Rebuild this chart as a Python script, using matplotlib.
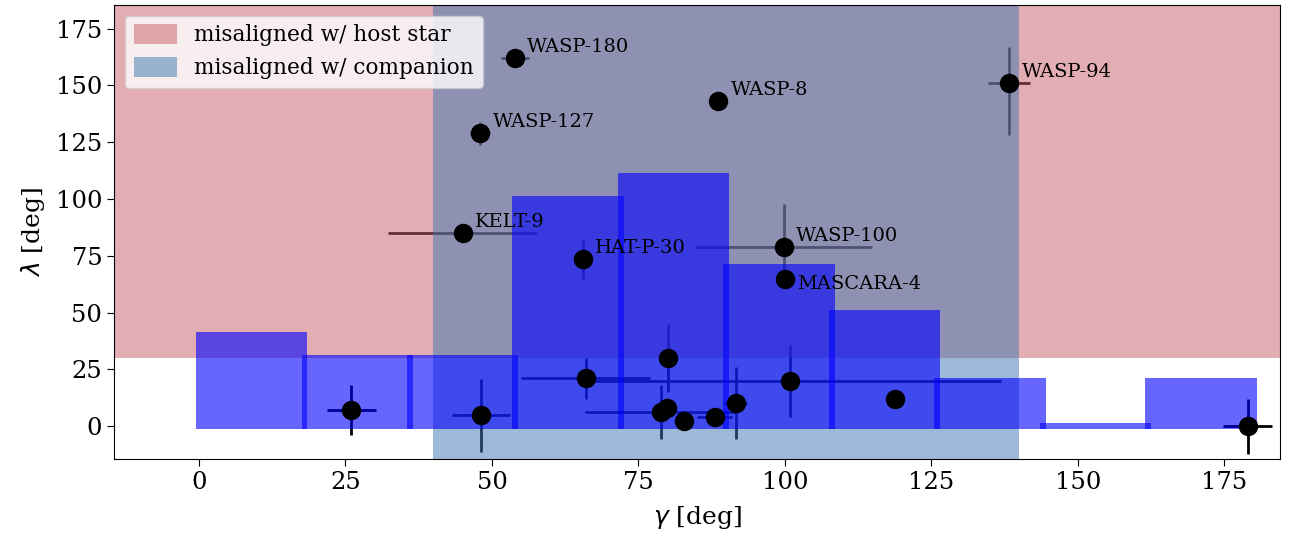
import numpy as np
import matplotlib
matplotlib.use("Agg")
import matplotlib.pyplot as plt

# labelled systems: gamma, lambda, errors
names = ['WASP-180', 'WASP-8', 'WASP-94', 'WASP-127', 'KELT-9',
         'HAT-P-30', 'WASP-100', 'MASCARA-4']
gam_lab = [53.9, 88.6, 138.3, 48.0, 45.0, 65.5, 99.8, 100.1]
lam_lab = [162, 143, 151, 129, 85, 73.5, 79, 65]
gerr_lab = [2.4, 0.5, 3.6, 1.7, 12.7, 1.5, 15.0, 0.5]
lerr_lo_lab = [3, 1, 23, 5, 1, 9, 10, 1]
lerr_hi_lab = [3, 1, 16, 5, 1, 9, 19, 1]

# unlabelled systems
gam = [26.0, 48.1, 66.0, 80.0, 78.8, 79.9, 82.8, 88.0, 91.6, 100.9, 118.8, 179.0]
lam = [7.0, 4.9, 21.2, 30.0, 6.2, 8.0, 2.2, 4.0, 10.2, 19.9, 11.9, 0.0]
gerr = [4.2, 5.0, 11.0, 1.0, 13.0, 1.0, 0.5, 3.0, 2.0, 36.0, 0.5, 4.2]
lerr = [11, 16, 9, 15, 12, 3, 1, 1, 16, 16, 1, 12]

# histogram of gamma (counts per 18 deg bin)
bin_edges = np.linspace(0, 180, 11)
counts = [4, 3, 3, 10, 11, 7, 5, 2, 0, 2]
count_scale = 10

plt.rcParams['font.family'] = 'DejaVu Serif'
fig = plt.figure(figsize=(12.89, 5.34), dpi=100)
ax = fig.add_axes([0.0885, 0.14, 0.9045, 0.851])

eb = dict(fmt='none', ecolor='black', elinewidth=2, zorder=1)
ax.errorbar(gam_lab, lam_lab, xerr=gerr_lab, yerr=[lerr_lo_lab, lerr_hi_lab], **eb)
ax.errorbar(gam, lam, xerr=gerr, yerr=lerr, **eb)

ax.axhspan(30, 200, color='#C75D69', alpha=0.5, lw=0, zorder=2,
           label='misaligned w/ host star')
ax.axvspan(40, 140, color='#3B77B1', alpha=0.5, lw=0, zorder=2,
           label='misaligned w/ companion')

centers = 0.5 * (bin_edges[:-1] + bin_edges[1:])
heights = np.array(counts) * count_scale
ax.bar(centers, heights + 2.6, width=19, bottom=-1.3, color='blue',
       alpha=0.6, lw=0, zorder=3)

ax.plot(gam_lab, lam_lab, 'o', color='black', ms=13, zorder=5)
ax.plot(gam, lam, 'o', color='black', ms=13, zorder=5)

for n, g, l in zip(names, gam_lab, lam_lab):
    if n == 'MASCARA-4':
        off = (8, -4)
    else:
        off = (9, 8)
    ax.annotate(n, (g, l), xytext=off, textcoords='offset points',
                fontsize=14, va='center', ha='left', zorder=6)

ax.set_xlim(-14.5, 184.5)
ax.set_ylim(-14.5, 185.5)
ax.set_xticks([0, 25, 50, 75, 100, 125, 150, 175])
ax.set_yticks([0, 25, 50, 75, 100, 125, 150, 175])
ax.tick_params(labelsize=17.5, length=5)
ax.set_xlabel(r'$\gamma$ [deg]', fontsize=18, labelpad=7)
ax.set_ylabel(r'$\lambda$ [deg]', fontsize=18, labelpad=6)

ax.legend(loc='upper left', fontsize=15.6, framealpha=0.8, handleheight=1.0)

fig.savefig('out.png', dpi=100)
